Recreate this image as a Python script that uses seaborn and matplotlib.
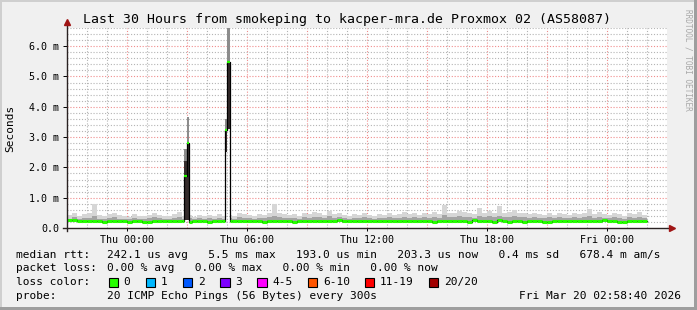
import numpy as np
import pandas as pd
import matplotlib
matplotlib.use("Agg")
import matplotlib.pyplot as plt
from matplotlib.patches import Rectangle
from matplotlib.ticker import MultipleLocator, FixedLocator, FixedFormatter
import seaborn as sns

# ---------------- data (hours relative to Thu 00:00, values in ms) ----------------
start_hour = -3.0
bin_hours = 0.25

median_ms = [
    0.26, 0.25, 0.23, 0.23,  0.24, 0.23, 0.23, 0.20,  0.23, 0.23, 0.24, 0.23,
    0.20, 0.22, 0.23, 0.21,  0.20, 0.23, 0.23, 0.23,  0.23, 0.23, 0.23, 0.23,
    0.20, 0.22, 0.23, 0.23,  0.20, 0.23, 0.23, 0.23,  0.23, 0.23, 0.23, 0.23,
    0.23, 0.23, 0.23, 0.20,  0.23, 0.23, 0.23, 0.23,  0.23, 0.21, 0.23, 0.23,
    0.23, 0.23, 0.23, 0.23,  0.23, 0.23, 0.26, 0.23,  0.23, 0.23, 0.22, 0.23,
    0.23, 0.23, 0.23, 0.23,  0.23, 0.23, 0.22, 0.23,  0.23, 0.23, 0.23, 0.23,
    0.23, 0.20, 0.24, 0.23,  0.23, 0.23, 0.23, 0.23,  0.20, 0.26, 0.23, 0.23,
    0.23, 0.21, 0.25, 0.23,  0.20, 0.23, 0.23, 0.20,  0.23, 0.23, 0.23, 0.20,
    0.20, 0.23, 0.23, 0.23,  0.23, 0.23, 0.23, 0.23,  0.23, 0.23, 0.23, 0.26,
    0.22, 0.23, 0.21, 0.20,  0.23, 0.23, 0.23, 0.23,
]
smoke_lo_ms = [
    0.21, 0.21, 0.20, 0.20,  0.21, 0.20, 0.20, 0.18,  0.20, 0.20, 0.21, 0.20,
    0.18, 0.19, 0.20, 0.19,  0.18, 0.20, 0.20, 0.20,  0.20, 0.20, 0.20, 0.20,
    0.18, 0.19, 0.20, 0.20,  0.18, 0.20, 0.20, 0.20,  0.20, 0.20, 0.20, 0.20,
    0.20, 0.20, 0.20, 0.18,  0.20, 0.20, 0.20, 0.20,  0.20, 0.19, 0.20, 0.20,
    0.20, 0.20, 0.20, 0.20,  0.20, 0.20, 0.21, 0.20,  0.20, 0.20, 0.19, 0.20,
    0.20, 0.20, 0.20, 0.20,  0.20, 0.20, 0.19, 0.20,  0.20, 0.20, 0.20, 0.20,
    0.20, 0.18, 0.20, 0.20,  0.20, 0.20, 0.20, 0.20,  0.18, 0.21, 0.20, 0.20,
    0.20, 0.19, 0.21, 0.20,  0.18, 0.20, 0.20, 0.18,  0.20, 0.20, 0.20, 0.18,
    0.18, 0.20, 0.20, 0.20,  0.20, 0.20, 0.20, 0.20,  0.20, 0.20, 0.20, 0.21,
    0.19, 0.20, 0.19, 0.18,  0.20, 0.20, 0.20, 0.20,
]
smoke_mid_ms = [
    0.31, 0.35, 0.30, 0.33,  0.34, 0.38, 0.31, 0.29,  0.33, 0.36, 0.30, 0.31,
    0.29, 0.33, 0.31, 0.30,  0.32, 0.36, 0.33, 0.29,  0.31, 0.34, 0.37, 0.31,
    0.32, 0.29, 0.33, 0.31,  0.33, 0.30, 0.34, 0.31,  0.33, 0.31, 0.35, 0.34,
    0.33, 0.31, 0.34, 0.32,  0.36, 0.40, 0.35, 0.33,  0.32, 0.34, 0.31, 0.36,
    0.34, 0.37, 0.35, 0.33,  0.38, 0.33, 0.36, 0.32,  0.31, 0.34, 0.32, 0.35,
    0.33, 0.30, 0.34, 0.32,  0.35, 0.32, 0.34, 0.37,  0.34, 0.36, 0.33, 0.35,
    0.34, 0.37, 0.34, 0.42,  0.36, 0.35, 0.38, 0.37,  0.35, 0.34, 0.40, 0.36,
    0.38, 0.36, 0.41, 0.35,  0.37, 0.39, 0.36, 0.35,  0.34, 0.36, 0.34, 0.33,
    0.35, 0.32, 0.36, 0.34,  0.33, 0.35, 0.34, 0.36,  0.39, 0.34, 0.37, 0.34,
    0.32, 0.36, 0.34, 0.31,  0.35, 0.34, 0.37, 0.33,  0.36, 0.34, 0.32, 0.31,
]
smoke_hi_ms = [
    0.42, 0.48, 0.40, 0.45,  0.50, 0.79, 0.44, 0.38,  0.47, 0.50, 0.42, 0.40,
    0.36, 0.45, 0.40, 0.38,  0.42, 0.50, 0.44, 0.38,  0.40, 0.46, 0.52, 0.40,
    0.42, 0.36, 0.44, 0.40,  0.42, 0.38, 0.45, 0.40,  0.44, 0.40, 0.48, 0.45,
    0.44, 0.40, 0.46, 0.42,  0.50, 0.78, 0.48, 0.45,  0.42, 0.45, 0.40, 0.50,
    0.46, 0.52, 0.48, 0.44,  0.55, 0.45, 0.50, 0.42,  0.40, 0.46, 0.42, 0.48,
    0.44, 0.38, 0.45, 0.42,  0.48, 0.42, 0.46, 0.52,  0.45, 0.50, 0.44, 0.48,
    0.46, 0.52, 0.45, 0.76,  0.50, 0.48, 0.55, 0.52,  0.48, 0.45, 0.66, 0.50,
    0.55, 0.50, 0.73, 0.48,  0.52, 0.58, 0.50, 0.48,  0.45, 0.50, 0.46, 0.44,
    0.48, 0.42, 0.50, 0.46,  0.44, 0.48, 0.45, 0.50,  0.63, 0.46, 0.52, 0.45,
    0.42, 0.50, 0.46, 0.40,  0.48, 0.45, 0.52, 0.44,  0.50, 0.46, 0.42, 0.40,
]

# spike samples (latency bursts)
spike_start_h = [2.87, 2.995, 4.88, 5.0]
spike_len_h = 0.125
spike_median_ms = [1.73, 2.82, 3.23, 5.49]
spike_lo_ms = [0.26, 0.26, 2.52, 3.28]
spike_mid_ms = [2.20, 2.82, 3.23, 5.49]
spike_hi_ms = [2.60, 3.67, 3.60, 6.60]

tick_hours = [0, 6, 12, 18, 24]
tick_labels = ["Thu 00:00", "Thu 06:00", "Thu 12:00", "Thu 18:00", "Fri 00:00"]

title = "Last 30 Hours from smokeping to kacper-mra.de Proxmox 02 (AS58087)"
legend_labels = ["median rtt:", "packet loss:", "loss color:", "probe:"]
rtt_line = "242.1 us avg   5.5 ms max   193.0 us min   203.3 us now   0.4 ms sd   678.4 m am/s"
loss_line = "0.00 % avg   0.00 % max   0.00 % min   0.00 % now"
probe_line = "20 ICMP Echo Pings (56 Bytes) every 300s"
stamp = "Fri Mar 20 02:58:40 2026"
loss_names = ["0", "1", "2", "3", "4-5", "6-10", "11-19", "20/20"]
loss_colors = ["#26ff00", "#00b8ff", "#0059ff", "#7e00ff", "#ff00ff", "#ff5500", "#ff0000", "#a10000"]

# ---------------- build sample table ----------------
rows = []
spikes = list(zip(spike_start_h, [s + spike_len_h for s in spike_start_h]))
for i, (m, lo, mid, hi) in enumerate(zip(median_ms, smoke_lo_ms, smoke_mid_ms, smoke_hi_ms)):
    s = start_hour + i * bin_hours
    pieces = [(s, s + bin_hours)]
    for ss, se in spikes:
        new = []
        for a, b in pieces:
            if se <= a or ss >= b:
                new.append((a, b))
                continue
            if ss > a:
                new.append((a, ss))
            if se < b:
                new.append((se, b))
        pieces = new
    for a, b in pieces:
        rows.append(dict(start=a, end=b, median=m, lo=lo, mid=mid, hi=hi, kind="base"))
for (ss, se), m, lo, mid, hi in zip(spikes, spike_median_ms, spike_lo_ms, spike_mid_ms, spike_hi_ms):
    rows.append(dict(start=ss, end=se, median=m, lo=lo, mid=mid, hi=hi, kind="spike"))
df = pd.DataFrame(rows).sort_values("start").reset_index(drop=True)
base = df[df.kind == "base"]
spk = df[df.kind == "spike"]

# ---------------- figure ----------------
W, H = 697, 310
plt.rcParams["font.family"] = ["DejaVu Sans Mono"]
fig = plt.figure(figsize=(W / 100, H / 100), dpi=100)
fig.patch.set_facecolor("#f0f0f0")

def fx(x):
    return x / W

def fy(y):
    return 1 - y / H

# frame shades
fig.add_artist(Rectangle((0, fy(2)), 1, 2 / H, transform=fig.transFigure, color="#cfcfcf", lw=0))
fig.add_artist(Rectangle((0, 0), 2 / W, 1, transform=fig.transFigure, color="#cfcfcf", lw=0))
fig.add_artist(Rectangle((fx(W - 3), 0), 3 / W, 1, transform=fig.transFigure, color="#9e9e9e", lw=0))
fig.add_artist(Rectangle((0, 0), 1, 3 / H, transform=fig.transFigure, color="#9e9e9e", lw=0))

ax = fig.add_axes([fx(67), fy(228), 600 / W, 200 / H])
ax.set_facecolor("white")
ax.set_xlim(-3, 27)
ax.set_ylim(0, 6.6)

# grid
dots = (0, (1, 1.6))
for h in np.arange(-2, 27, 1):
    col = "#f08c8c" if h % 3 == 0 else "#b4b4b4"
    ax.axvline(h, color=col, lw=0.8, ls=dots, zorder=0.5)
for v in np.arange(0.2, 6.61, 0.2):
    r = round(v, 1)
    col = "#f08c8c" if abs(r - round(r)) < 1e-6 else "#b4b4b4"
    ax.axhline(r, color=col, lw=0.8, ls=dots, zorder=0.5)

# smoke
ax.bar(base.start, base.hi - base.lo, bottom=base.lo, width=base.end - base.start,
       align="edge", color="#d6d6d6", lw=0, zorder=1)
ax.bar(base.start, base.mid - base.lo, bottom=base.lo, width=base.end - base.start,
       align="edge", color="#a4a4a4", lw=0, zorder=1.1)
ax.bar(spk.start, spk.hi - spk.lo, bottom=spk.lo, width=spk.end - spk.start,
       align="edge", color="#8c8c8c", lw=0, zorder=1.2)
ax.bar(spk.start, spk.mid - spk.lo, bottom=spk.lo, width=spk.end - spk.start,
       align="edge", color="#352c2c", lw=0, zorder=1.3)

# median line (black steps + green loss-colored segments)
step_x = list(df.start) + [df.end.iloc[-1]]
step_y = list(df["median"]) + [df["median"].iloc[-1]]
sns.lineplot(x=step_x, y=step_y, ax=ax, estimator=None, sort=False,
             drawstyle="steps-post", color="black", lw=0.9, zorder=2)
ax.hlines(base["median"], base.start, base.end, color=loss_colors[0], lw=2.2, zorder=3)
ax.hlines(spk["median"], spk.start, spk.end, color=loss_colors[0], lw=1.6, zorder=3)

# axes, ticks
for s in ax.spines.values():
    s.set_visible(False)
ax.set_xlabel("")
ax.set_ylabel("")
ax.xaxis.set_major_locator(FixedLocator(tick_hours))
ax.xaxis.set_major_formatter(FixedFormatter(tick_labels))
ax.yaxis.set_major_locator(MultipleLocator(1.0))
ax.yaxis.set_major_formatter(plt.FuncFormatter(lambda v, p: "0.0" if v == 0 else f"{v:.1f} m"))
ax.tick_params(axis="x", which="major", length=2, width=0.7, pad=3, labelsize=7.2, color="black")
ax.tick_params(axis="y", which="major", length=3, width=0.7, pad=2.5, labelsize=7.2, color="black")
ax.tick_params(which="minor", length=0)

axis_col = "#2a2222"
arrow_col = "#a01515"
ax.plot([-3.2, 27.1], [0, 0], color=axis_col, lw=1.0, clip_on=False, zorder=4)
ax.plot([-3, -3], [-0.1, 6.78], color=axis_col, lw=1.0, clip_on=False, zorder=4)
ax.plot([27.25], [0], marker=">", ms=4, color=arrow_col, clip_on=False, zorder=5)
ax.plot([-3], [6.8], marker="^", ms=4, color=arrow_col, clip_on=False, zorder=5)

# texts
fig.text(fx(347), fy(19), title, ha="center", va="center", fontsize=9.5)
fig.text(fx(10), fy(128), "Seconds", rotation=90, ha="center", va="center", fontsize=8)
fig.text(fx(688), fy(60), "RRDTOOL / TOBI OETIKER", rotation=270, ha="center", va="center",
         fontsize=5.6, color="#a8a8a8")

row_y = [254.5, 268.3, 281.8, 295.8]
for lab, y in zip(legend_labels, row_y):
    fig.text(fx(16), fy(y), lab, ha="left", va="center", fontsize=8)
fig.text(fx(107.3), fy(row_y[0]), rtt_line, ha="left", va="center", fontsize=8)
fig.text(fx(107.3), fy(row_y[1]), loss_line, ha="left", va="center", fontsize=8)
fig.text(fx(107.3), fy(row_y[3]), probe_line, ha="left", va="center", fontsize=8)
fig.text(fx(681), fy(row_y[3]), stamp, ha="right", va="center", fontsize=8)

bx = 108.5
for name, col in zip(loss_names, loss_colors):
    fig.add_artist(Rectangle((fx(bx), fy(287)), 9.5 / W, 9.5 / H, transform=fig.transFigure,
                             facecolor=col, edgecolor="black", lw=0.8))
    fig.text(fx(bx + 15), fy(row_y[2]), name, ha="left", va="center", fontsize=8)
    bx = bx + 15 + len(name) * 6.68 + 15.5

fig.savefig("out.png", dpi=100, facecolor=fig.get_facecolor())
